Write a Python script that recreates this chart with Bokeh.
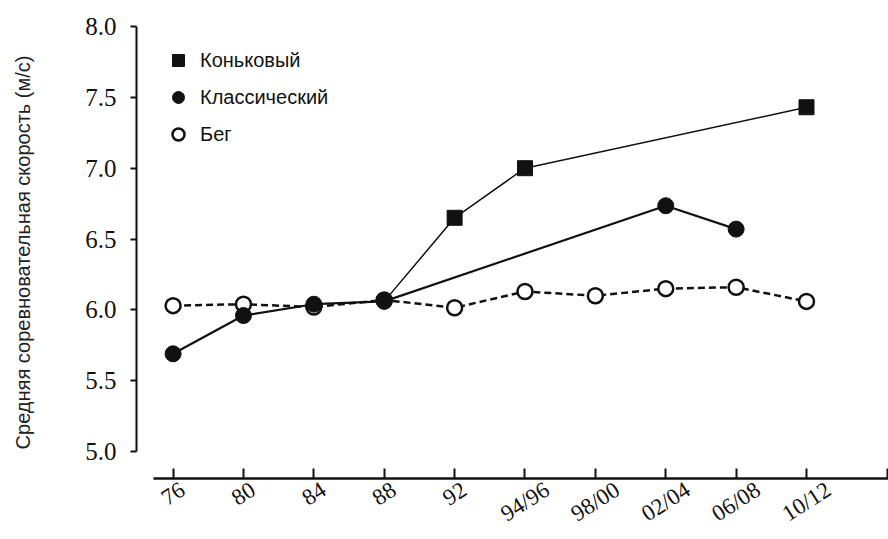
import math
from bokeh.plotting import figure
from bokeh.models import Range1d, FixedTicker, Legend, LegendItem, LinearAxis
from bokeh.embed import file_html
from bokeh.resources import INLINE

nan = float("nan")

categories = ["76", "80", "84", "88", "92", "94/96", "98/00", "02/04", "06/08", "10/12"]
skate = [nan, nan, nan, nan, 6.65, 7.00, nan, nan, nan, 7.43]
classic = [5.69, 5.96, 6.04, 6.06, nan, nan, nan, 6.735, 6.57, nan]
run = [6.03, 6.04, 6.02, 6.07, 6.015, 6.13, 6.10, 6.15, 6.16, 6.06]
y_ticks = [5.0, 5.5, 6.0, 6.5, 7.0, 7.5, 8.0]
y_tick_labels = ["5.0", "5.5", "6.0", "6.5", "7.0", "7.5", "8.0"]
series_names = ["Коньковый", "Классический", "Бег"]
y_title = "Средняя соревновательная скорость (м/с)"

x_pos = list(range(len(categories)))

W, H = 888, 539
LEFT, TOP, BOTTOM = 136, 26, 59
X0, X1 = -0.52, 10.165
Y0, Y1 = 4.81, 8.0


def valid(vals):
    xs = [i for i, v in enumerate(vals) if not math.isnan(v)]
    ys = [v for v in vals if not math.isnan(v)]
    return xs, ys


p = figure(width=W, height=H, output_backend="svg", toolbar_location=None,
           x_range=Range1d(X0, X1), y_range=Range1d(Y0, Y1),
           min_border_left=LEFT, min_border_right=0, min_border_top=TOP, min_border_bottom=BOTTOM)
p.outline_line_color = None
p.xgrid.visible = False
p.ygrid.visible = False
p.background_fill_color = "white"
p.border_fill_color = "white"

INK = "#111111"

# lines
sx, sy = valid(skate)
cx, cy = valid(classic)
rx, ry = valid(run)
# skate line starts from the shared 88 classic point
p.line([cx[3]] + sx, [cy[3]] + sy, line_color=INK, line_width=1.5)
p.line(cx, cy, line_color=INK, line_width=2.2)
p.line(rx, ry, line_color=INK, line_width=2.5, line_dash="7 4")

r_run = p.scatter(rx, ry, marker="circle", size=15, fill_color="white", line_color=INK, line_width=2.5)
r_classic = p.scatter(cx, cy, marker="circle", size=16, fill_color=INK, line_color=INK)
r_skate = p.scatter(sx, sy, marker="square", size=15, fill_color=INK, line_color=INK)

# y axis
yax = p.yaxis[0]
yax.bounds = (5.0, 8.0)
yax.ticker = FixedTicker(ticks=y_ticks)
yax.major_label_overrides = {t: l for t, l in zip(y_ticks, y_tick_labels)}
yax.axis_line_width = 2
yax.axis_line_color = INK
yax.major_tick_line_width = 2
yax.major_tick_line_color = INK
yax.major_tick_in = 0
yax.major_tick_out = 6
yax.minor_tick_line_color = None
yax.major_label_standoff = 14
yax.major_label_text_font = "Liberation Serif"
yax.major_label_text_font_size = "25px"
yax.major_label_text_color = INK
yax.axis_label = y_title
yax.axis_label_text_font = "Liberation Sans"
yax.axis_label_text_font_size = "20px"
yax.axis_label_text_font_style = "normal"
yax.axis_label_text_color = "#222222"
yax.axis_label_standoff = 48

# x axis: line and ticks only
xax = p.xaxis[0]
end_tick = 10.15
xax.bounds = (-0.28, X1)
xax.ticker = FixedTicker(ticks=x_pos + [end_tick])
xax.major_label_overrides = {t: "" for t in x_pos + [end_tick]}
xax.axis_line_width = 2.5
xax.axis_line_color = INK
xax.major_tick_line_width = 2
xax.major_tick_line_color = INK
xax.major_tick_in = 10
xax.major_tick_out = 0
xax.minor_tick_line_color = None
xax.major_label_standoff = 0
xax.major_label_text_font_size = "0px"

# x axis labels: a second, line-less axis whose slanted labels are centred
# under the ticks (Bokeh anchors slanted labels at their right end, so the
# anchor is moved right by half the projected label width)
LABEL_FONT_PX = 23
ANGLE = 0.57
px_per_unit = (W - LEFT) / (X1 - X0)
char_em = {"/": 0.278}


def half_width_units(label):
    w = sum(char_em.get(ch, 0.5) for ch in label) * LABEL_FONT_PX
    return round(w / 2 * math.cos(ANGLE) / px_per_unit, 4)


label_ticks = [round(i + half_width_units(c), 4) for i, c in zip(x_pos, categories)]
lab_axis = LinearAxis(ticker=FixedTicker(ticks=label_ticks),
                      major_label_overrides={t: c for t, c in zip(label_ticks, categories)},
                      axis_line_color=None, major_tick_line_color=None,
                      minor_tick_line_color=None, major_tick_in=0, major_tick_out=0,
                      major_label_standoff=9, major_label_orientation=ANGLE,
                      major_label_text_font="Liberation Serif",
                      major_label_text_font_size=f"{LABEL_FONT_PX}px",
                      major_label_text_line_height=1.0,
                      major_label_text_color=INK)
p.add_layout(lab_axis, "below")

legend = Legend(items=[LegendItem(label=series_names[0], renderers=[r_skate]),
                       LegendItem(label=series_names[1], renderers=[r_classic]),
                       LegendItem(label=series_names[2], renderers=[r_run])],
                location=(27, 329), orientation="vertical",
                glyph_width=30, glyph_height=30, label_height=30, spacing=7,
                padding=0, margin=0, label_standoff=7,
                border_line_alpha=0, background_fill_alpha=0,
                label_text_font="Liberation Sans", label_text_font_size="20px",
                label_text_color=INK)
p.add_layout(legend)

open("out.html", "w").write(file_html(p, INLINE))
